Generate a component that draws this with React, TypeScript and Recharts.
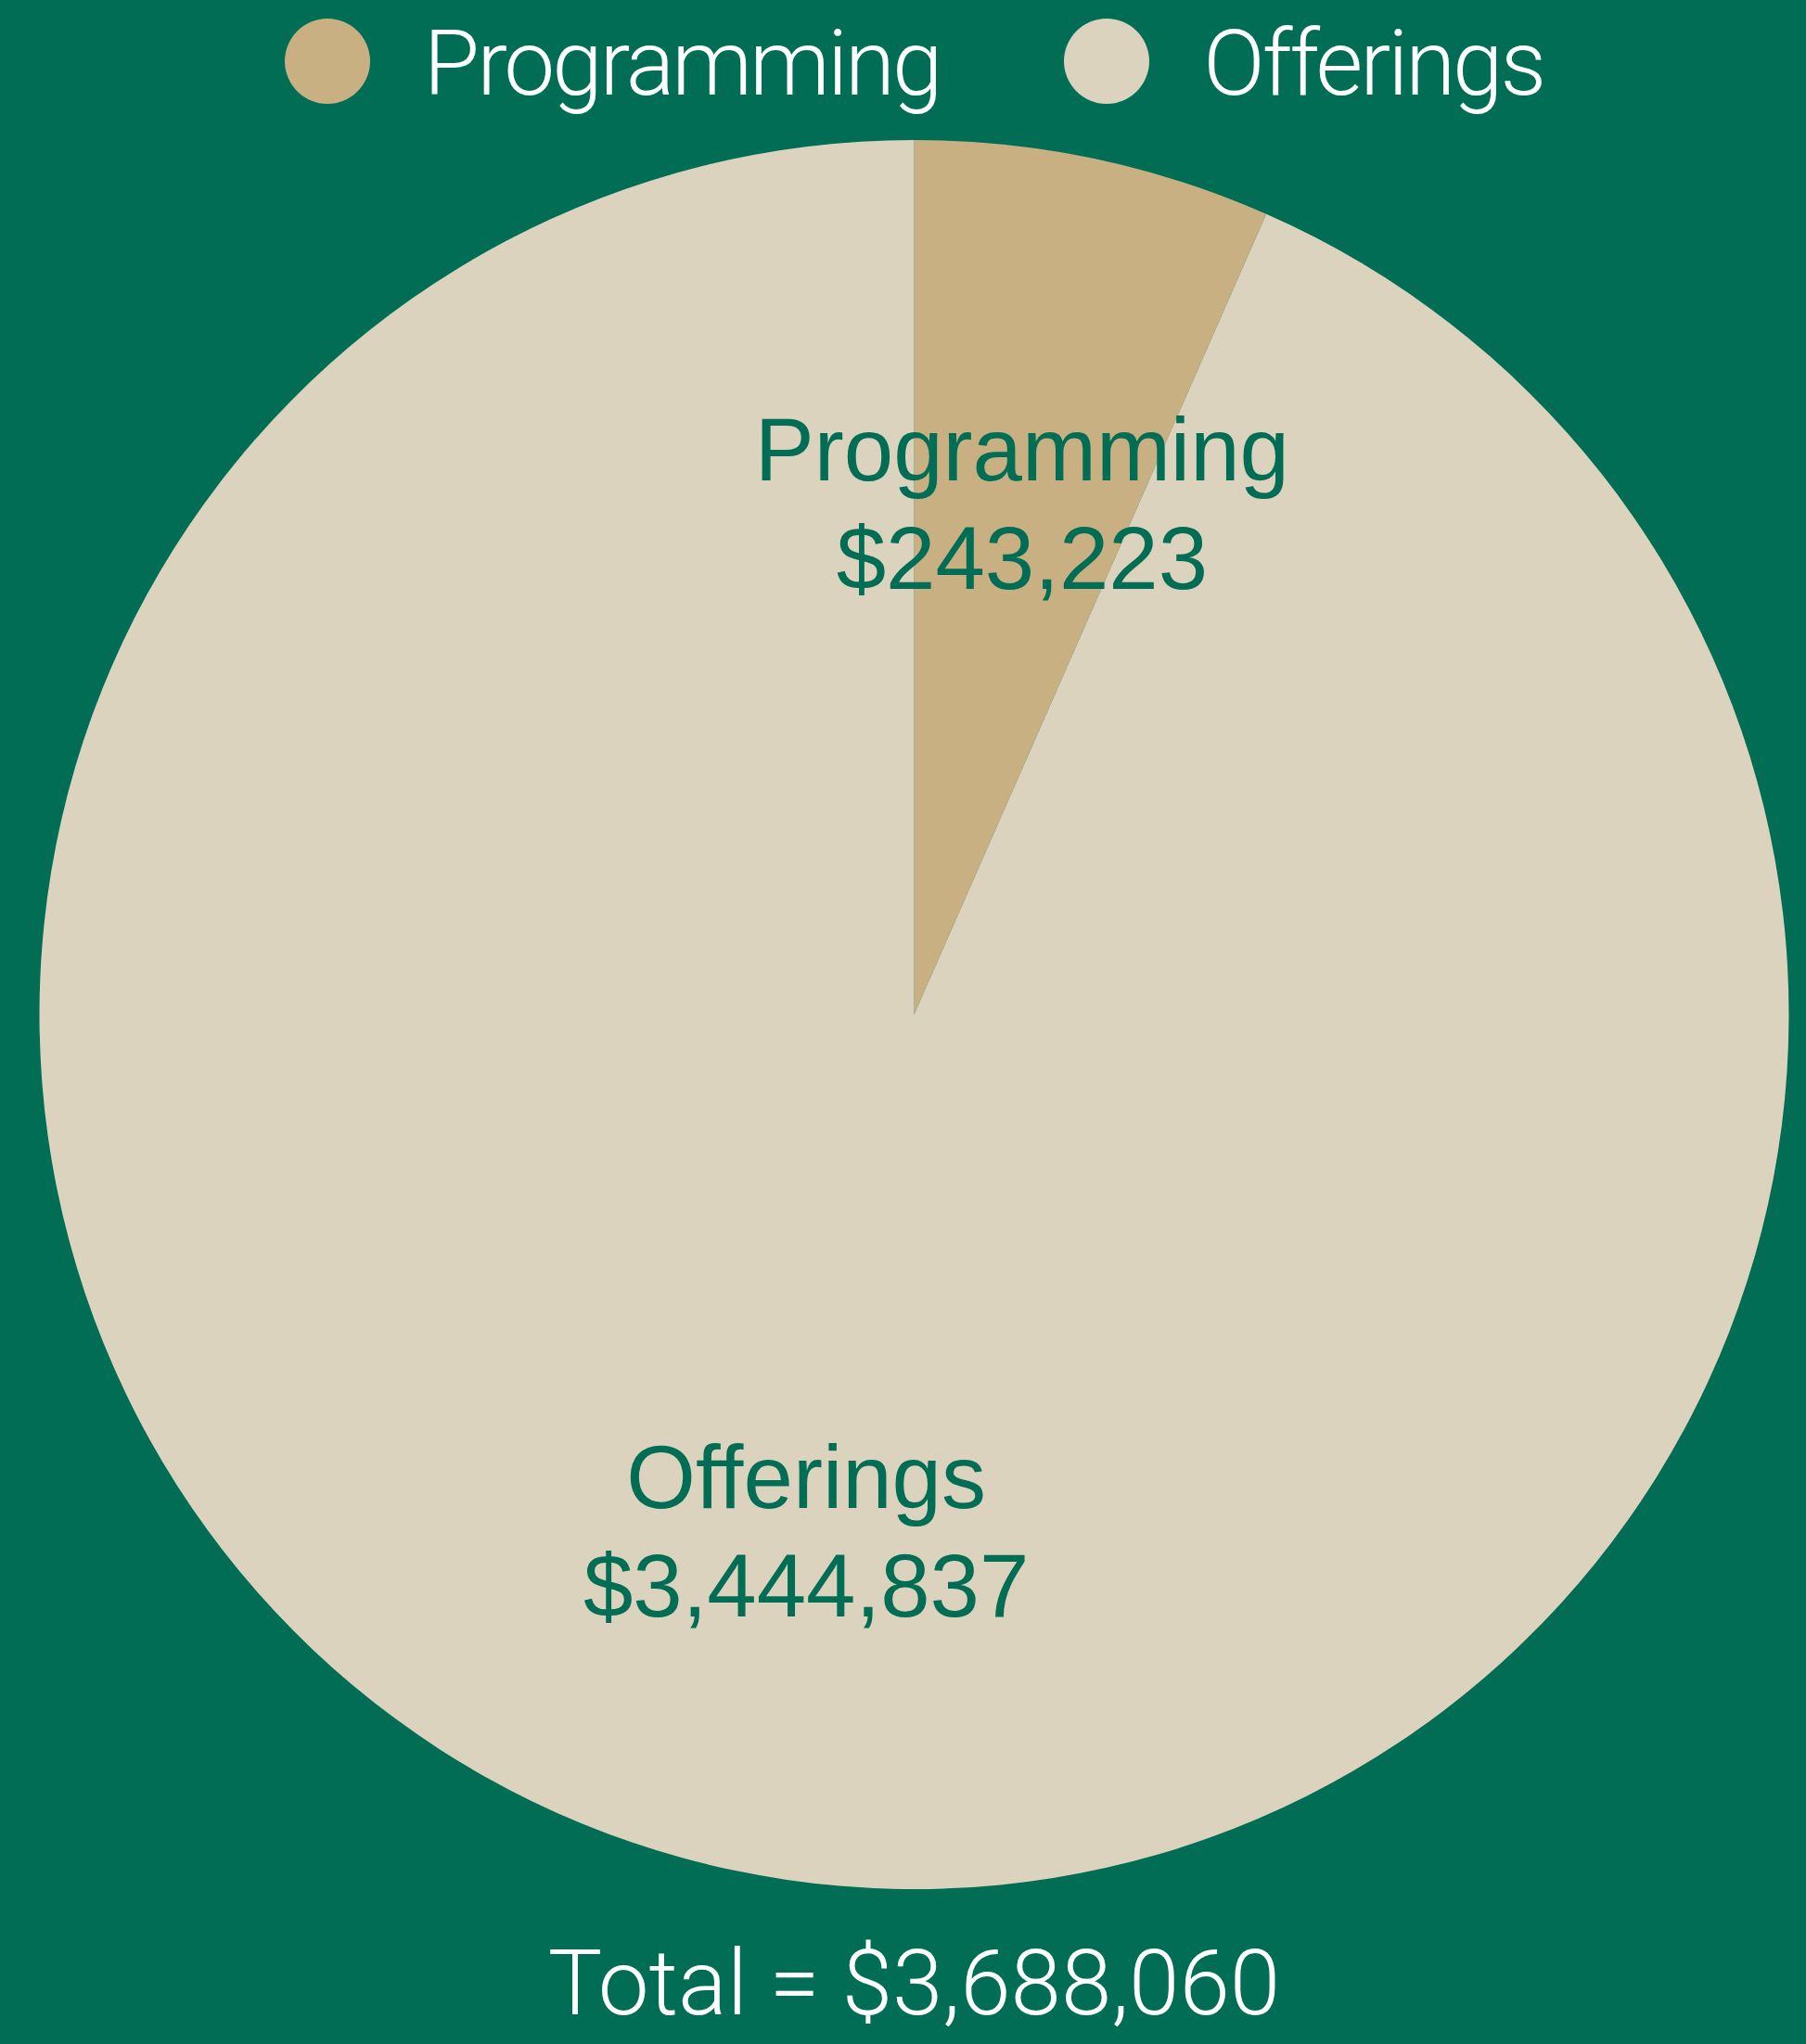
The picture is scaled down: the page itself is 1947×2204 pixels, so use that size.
import { PieChart, Pie, Cell, Legend } from 'recharts'

const categories = ['Programming', 'Offerings']
const amounts = [243223, 3444837]
const colors = ['#c8b083', '#dbd3bd']

const BG = '#016d54'
const W = 1947
const H = 2204
const LEGEND_H = 132

const data = categories.map((name, i) => ({ name, value: amounts[i] }))
const total = amounts.reduce((a, b) => a + b, 0)

const money = (v: number) => '$' + v.toLocaleString('en-US')

const RAD = Math.PI / 180

const renderLabel = (p: any) => {
  const r = p.outerRadius * 0.6
  const x = p.cx + r * Math.cos(-p.midAngle * RAD)
  const y = p.cy + r * Math.sin(-p.midAngle * RAD)
  return (
    <text
      x={x}
      y={y - 22}
      textAnchor="middle"
      fill={BG}
      fontSize={96}
      fontFamily="'Liberation Sans', Arial, sans-serif"
    >
      <tspan x={x}>{p.name}</tspan>
      <tspan x={x} dy={117}>{money(p.value)}</tspan>
    </text>
  )
}

const renderLegend = (props: any) => {
  const payload = [...(props.payload || [])].sort(
    (a: any, b: any) => categories.indexOf(a.value) - categories.indexOf(b.value),
  )
  return (
    <div
      style={{
        display: 'flex', justifyContent: 'center', alignItems: 'center',
        height: LEGEND_H, paddingLeft: 24, boxSizing: 'border-box',
      }}
    >
      {payload.map((entry: any, i: number) => (
        <div key={i} style={{ display: 'flex', alignItems: 'center', marginRight: i === 0 ? 134 : 0 }}>
          <span
            style={{
              width: 92, height: 92, borderRadius: '50%', background: entry.color,
              display: 'inline-block', marginRight: 58,
            }}
          />
          <span
            style={{
              color: '#fff', fontSize: 98, fontWeight: 300, lineHeight: 1,
              fontFamily: 'Roboto, sans-serif', letterSpacing: -3, position: 'relative', top: 3,
            }}
          >
            {entry.value}
          </span>
        </div>
      ))}
    </div>
  )
}

export default function App() {
  return (
    <div style={{ position: 'absolute', left: 0, top: 0, width: W, height: H, background: BG, overflow: 'hidden' }}>
      <PieChart width={W} height={H} margin={{ top: 0, right: 0, bottom: 0, left: 0 }}>
        <Legend
          verticalAlign="top"
          content={renderLegend}
          itemSorter={null as any}
          wrapperStyle={{ top: 0, left: 0, width: W, height: LEGEND_H }}
        />
        <Pie
          data={data}
          dataKey="value"
          nameKey="name"
          cx={985.5}
          cy={1094 - LEGEND_H}
          outerRadius={943}
          startAngle={90}
          endAngle={-270}
          stroke="none"
          label={renderLabel}
          labelLine={false}
          isAnimationActive={false}
        >
          {data.map((d, i) => (
            <Cell key={d.name} fill={colors[i]} />
          ))}
        </Pie>
      </PieChart>
      <div
        style={{
          position: 'absolute', left: 12, top: 2090, width: W, textAlign: 'center',
          color: '#fff', fontSize: 98, fontWeight: 300, lineHeight: 1,
          fontFamily: 'Roboto, sans-serif', letterSpacing: 0,
        }}
      >
        Total = {money(total)}
      </div>
    </div>
  )
}
